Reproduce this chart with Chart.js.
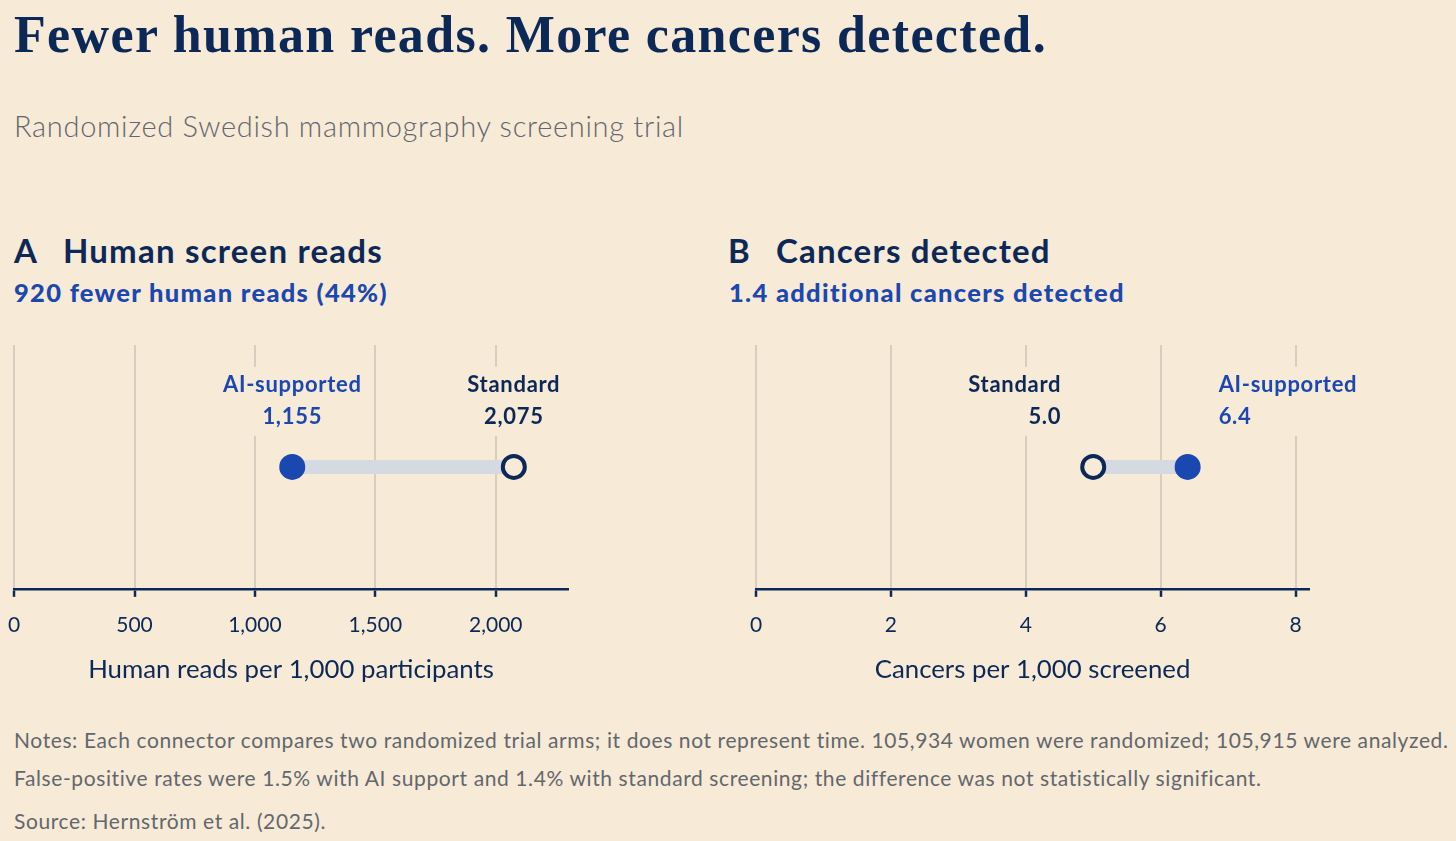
<!DOCTYPE html>
<html>
<head>
<meta charset="utf-8">
<script src="https://cdn.jsdelivr.net/npm/chart.js@4.4.1/dist/chart.umd.min.js"></script>
<style>
  html, body { margin: 0; padding: 0; background: #f7ead7; }
  body { width: 1456px; height: 841px; position: relative; overflow: hidden; font-family: Lato, sans-serif; }
  .t { position: absolute; white-space: nowrap; line-height: 1; }
  .title { left: 14px; top: 9px; font-family: "Liberation Serif", serif; font-weight: 700; font-size: 52px; letter-spacing: 1.35px; color: #0c2857; }
  .subtitle { left: 14px; top: 111px; font-weight: 300; font-size: 29px; letter-spacing: 0.7px; color: #63676d; }
  .head { top: 234px; font-weight: 700; font-size: 33px; letter-spacing: 1.2px; color: #0c2857; }
  .sub { top: 280px; font-weight: 900; font-size: 25.5px; letter-spacing: 1.3px; color: #1b47b1; }
  .note { left: 14px; font-size: 21px; letter-spacing: 0.6px; color: #63676d; }
  canvas { position: absolute; display: block; }
</style>
</head>
<body>
<div class="t title">Fewer human reads. More cancers detected.</div>
<div class="t subtitle">Randomized Swedish mammography screening trial</div>

<div class="t head" style="left:14px">A</div>
<div class="t head" style="left:63px">Human screen reads</div>
<div class="t sub" style="left:14px">920 fewer human reads (44%)</div>

<div class="t head" style="left:728px">B</div>
<div class="t head" style="left:776px">Cancers detected</div>
<div class="t sub" style="left:729px">1.4 additional cancers detected</div>

<canvas id="readsChart" width="628" height="365" style="left:-8px; top:320px"></canvas>
<canvas id="cancerChart" width="722" height="365" style="left:734px; top:320px"></canvas>

<div class="t note" style="top:729px">Notes: Each connector compares two randomized trial arms; it does not represent time. 105,934 women were randomized; 105,915 were analyzed.</div>
<div class="t note" style="top:767px">False-positive rates were 1.5% with AI support and 1.4% with standard screening; the difference was not statistically significant.</div>
<div class="t note" style="top:810px">Source: Hernström et al. (2025).</div>

<script>
// data
const arms = ['AI-supported', 'Standard']
const readsValues = [1155, 2075]      // human reads per 1,000 participants
const cancerValues = [6.4, 5.0]       // cancers per 1,000 screened
const readsTicks = [0, 500, 1000, 1500, 2000]
const cancerTicks = [0, 2, 4, 6, 8]

const BG = '#f7ead7'
const NAVY = '#0c2857'
const BLUE = '#1b47b1'
const GRID = '#d8cebf'
const CONNECTOR = '#d5d9e2'

// draws the arm name + value above each dot, on a patch of background
const armLabels = {
    id: 'armLabels',
    afterDatasetsDraw(chart, args, opts) {
        const { ctx, scales: { x, y } } = chart
        const yPix = y.getPixelForValue(0.5)
        ctx.save()
        ctx.font = '700 22px Lato'
        ctx.letterSpacing = '0.7px'
        ctx.textBaseline = 'middle'
        opts.items.forEach(item => {
            const xPix = x.getPixelForValue(item.value) + item.dx
            const w = Math.max(ctx.measureText(item.name).width, ctx.measureText(item.text).width)
            let left = xPix - w / 2
            if (item.align === 'right') left = xPix - w
            if (item.align === 'left') left = xPix
            ctx.fillStyle = BG
            ctx.fillRect(left - 4, yPix - 100, w + 8, 69)
            ctx.fillStyle = item.color
            ctx.textAlign = item.align
            ctx.fillText(item.name, xPix, yPix - 82)
            ctx.fillText(item.text, xPix, yPix - 50)
        })
        ctx.restore()
    }
}

function makePanel(canvasId, values, ticks, max, axisTitle, fmtTick, fmtValue, padding, placement) {
    const ctx = document.getElementById(canvasId).getContext('2d')
    return new Chart(ctx, {
        type: 'scatter',
        data: {
            datasets: [
                {
                    // connector between the two arms
                    data: values.map(v => ({ x: v, y: 0.5 })),
                    showLine: true,
                    borderColor: CONNECTOR,
                    borderWidth: 14,
                    borderCapStyle: 'butt',
                    pointRadius: 0,
                    order: 10
                },
                {
                    label: arms[0],
                    data: [{ x: values[0], y: 0.5 }],
                    pointRadius: 13,
                    backgroundColor: BLUE,
                    borderWidth: 0,
                    order: 1
                },
                {
                    label: arms[1],
                    data: [{ x: values[1], y: 0.5 }],
                    pointRadius: 11,
                    backgroundColor: BG,
                    borderColor: NAVY,
                    borderWidth: 4,
                    order: 0
                }
            ]
        },
        options: {
            responsive: false,
            animation: false,
            events: [],
            layout: { padding: padding },
            scales: {
                x: {
                    type: 'linear',
                    min: 0,
                    max: max,
                    afterBuildTicks: axis => { axis.ticks = ticks.map(v => ({ value: v })) },
                    grid: {
                        color: GRID,
                        lineWidth: 2,
                        tickLength: 8,
                        tickColor: NAVY,
                        tickWidth: 2.5
                    },
                    border: { display: true, color: NAVY, width: 2.5 },
                    ticks: {
                        color: NAVY,
                        padding: 16,
                        font: { family: 'Lato', size: 21 },
                        callback: v => fmtTick(v)
                    },
                    title: {
                        display: true,
                        text: axisTitle,
                        color: NAVY,
                        font: { family: 'Lato', size: 25.8 },
                        padding: { top: 0, bottom: 0 }
                    }
                },
                y: { display: false, min: 0, max: 1 }
            },
            plugins: {
                legend: { display: false },
                tooltip: { enabled: false },
                armLabels: {
                    items: arms.map((name, i) => ({
                        name: name,
                        text: fmtValue(values[i]),
                        value: values[i],
                        color: i === 0 ? BLUE : NAVY,
                        align: placement[i].align,
                        dx: placement[i].dx
                    }))
                }
            }
        },
        plugins: [armLabels]
    })
}

makePanel('readsChart', readsValues, readsTicks, 2300,
    'Human reads per 1,000 participants',
    v => v.toLocaleString('en-US'),
    v => v.toLocaleString('en-US'),
    { left: 13, right: 52, top: 25, bottom: 0 },
    [{ align: 'center', dx: 0 }, { align: 'center', dx: 0 }])

makePanel('cancerChart', cancerValues, cancerTicks, 8.2,
    'Cancers per 1,000 screened',
    v => String(v),
    v => v.toFixed(1),
    { left: 16, right: 147, top: 25, bottom: 0 },
    [{ align: 'left', dx: 31 }, { align: 'right', dx: -32 }])
</script>
</body>
</html>
